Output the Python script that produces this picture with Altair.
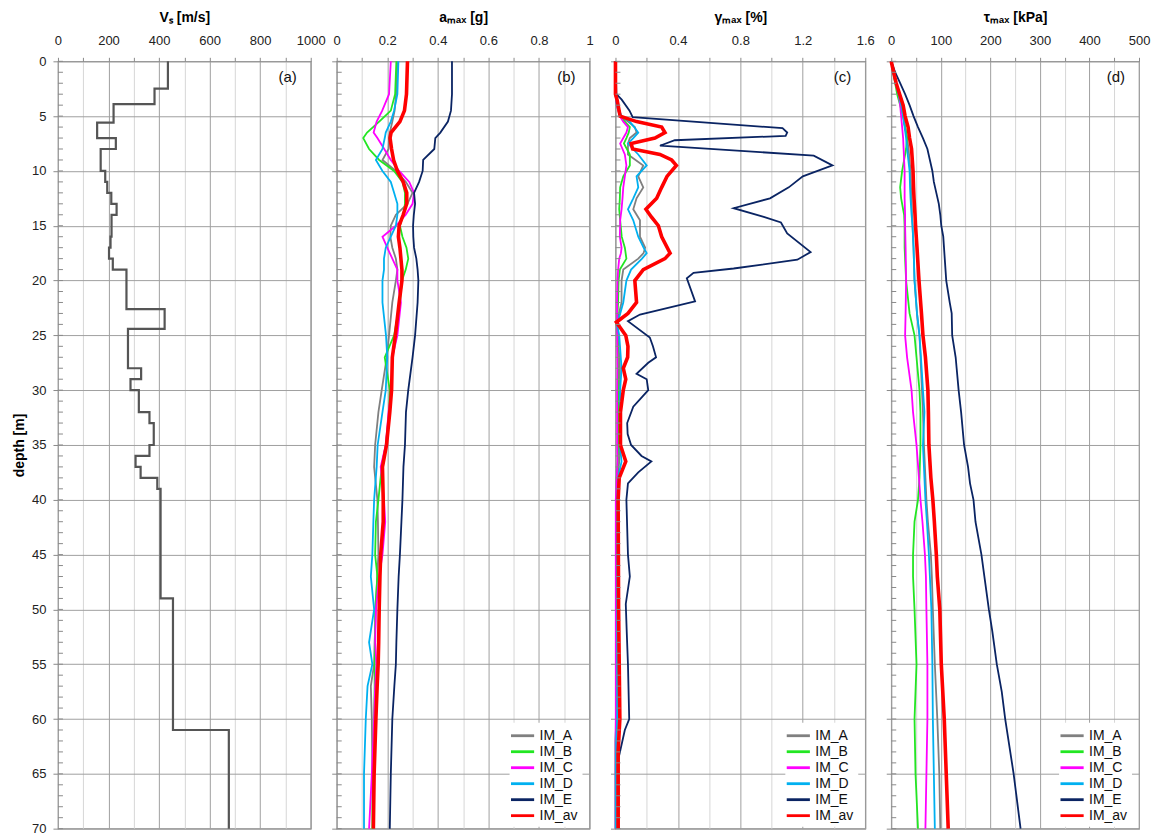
import altair as alt
import pandas as pd

SERIES = ["IM_A", "IM_B", "IM_C", "IM_D", "IM_E", "IM_av"]
COLORS = ["#808080", "#22e622", "#ff00ff", "#00b0f0", "#0a2463", "#ff0000"]

# ---------------- (a) Vs profile ----------------
VS_TOP = [0, 2.5, 3.9, 5.6, 7.0, 8.0, 10.0, 11.0, 12.0, 13.0, 14.0, 16.0, 17.0, 18.0, 19.0,
          22.6, 24.4, 28.0, 29.0, 30.0, 32.0, 33.0, 35.0, 36.0, 37.0, 38.0, 39.0, 49.0, 61.0]
VS_BOTTOM = VS_TOP[1:] + [70.0]
VS = [435, 382, 220, 155, 229, 169, 187, 195, 211, 232, 212, 208, 202, 217, 271,
      422, 277, 329, 287, 320, 362, 379, 362, 307, 327, 393, 406, 455, 676]

# ---------------- (b) a_max [g] ----------------
D_B = [0, 3, 4.5, 5.5, 6.5, 7, 8, 9, 10, 11, 12, 13, 14, 15, 16, 17, 18, 19, 20, 22, 25, 27,
       30, 32, 35, 37, 40, 42, 45, 47, 50, 53, 55, 57, 60, 65, 70]
AMAX_A = [0.24, 0.235, 0.229, 0.22, 0.21, 0.207, 0.205, 0.181, 0.234, 0.273, 0.30, 0.28, 0.234,
          0.214, 0.212, 0.22, 0.234, 0.24, 0.234, 0.22, 0.207, 0.198, 0.178, 0.165, 0.152, 0.148,
          0.161, 0.163, 0.165, 0.16, 0.155, 0.15, 0.148, 0.135, 0.139, 0.141, 0.144]
AMAX_B = [0.236, 0.231, 0.214, 0.168, 0.12, 0.105, 0.128, 0.168, 0.227, 0.26, 0.27, 0.27, 0.263,
          0.25, 0.26, 0.276, 0.283, 0.273, 0.258, 0.25, 0.227, 0.19, 0.21, 0.208, 0.194, 0.178,
          0.165, 0.155, 0.152, 0.161, 0.152, 0.152, 0.15, 0.15, 0.148, 0.142, 0.141]
AMAX_C = [0.214, 0.207, 0.18, 0.158, 0.146, 0.161, 0.188, 0.214, 0.247, 0.287, 0.306, 0.30, 0.273,
          0.234, 0.181, 0.2, 0.22, 0.24, 0.24, 0.254, 0.24, 0.22, 0.217, 0.205, 0.194, 0.174,
          0.187, 0.192, 0.181, 0.168, 0.155, 0.152, 0.157, 0.152, 0.148, 0.139, 0.128]
AMAX_D = [0.244, 0.24, 0.227, 0.214, 0.194, 0.19, 0.181, 0.155, 0.181, 0.214, 0.227, 0.24, 0.24,
          0.234, 0.214, 0.194, 0.187, 0.187, 0.181, 0.181, 0.195, 0.2, 0.194, 0.181, 0.162, 0.158,
          0.148, 0.145, 0.141, 0.135, 0.148, 0.128, 0.141, 0.122, 0.115, 0.108, 0.108]
AMAX_E = [0.456, 0.456, 0.452, 0.44, 0.41, 0.39, 0.386, 0.342, 0.34, 0.326, 0.306, 0.31, 0.305,
          0.302, 0.303, 0.306, 0.315, 0.32, 0.323, 0.32, 0.31, 0.30, 0.283, 0.274, 0.27, 0.264,
          0.26, 0.256, 0.25, 0.245, 0.24, 0.236, 0.234, 0.228, 0.22, 0.214, 0.21]
AMAX_AV = [0.28, 0.276, 0.268, 0.25, 0.215, 0.211, 0.217, 0.225, 0.24, 0.263, 0.277, 0.277, 0.263,
           0.247, 0.244, 0.25, 0.254, 0.258, 0.258, 0.247, 0.232, 0.22, 0.217, 0.21, 0.197, 0.181,
           0.184, 0.184, 0.174, 0.171, 0.168, 0.166, 0.164, 0.16, 0.155, 0.148, 0.145]

# ---------------- (c) gamma_max [%] ----------------
D_C = [0, 3, 4, 5, 5.5, 6, 6.5, 7, 7.5, 8.5, 9.5, 10.5, 11.5, 12.5, 13.5, 14.5, 16, 17, 17.5,
       18, 19, 20, 22, 24, 25, 28, 30, 35, 36.5, 38, 40, 50, 60, 62, 65, 70]
GAM_A = [0, 0, 0.01, 0.03, 0.08, 0.124, 0.135, 0.092, 0.08, 0.08, 0.178, 0.146, 0.178, 0.135,
         0.114, 0.157, 0.157, 0.19, 0.18, 0.146, 0.05, 0.039, 0.039, 0.006, 0.017, 0.028, 0.028,
         0.024, 0.024, 0.015, 0.011, 0.011, 0.011, 0.008, 0.006, 0.006]
GAM_B = [0, 0, 0.008, 0.028, 0.06, 0.092, 0.085, 0.07, 0.054, 0.092, 0.092, 0.05, 0.03, 0.028,
         0.024, 0.03, 0.04, 0.06, 0.065, 0.07, 0.028, 0.02, 0.017, 0.008, 0.013, 0.017, 0.017,
         0.017, 0.015, 0.008, 0.006, 0.006, 0.006, 0.0, 0.0, 0.0]
GAM_C = [0, 0, 0.008, 0.028, 0.05, 0.08, 0.07, 0.05, 0.03, 0.06, 0.07, 0.06, 0.05, 0.045, 0.039,
         0.03, 0.028, 0.039, 0.035, 0.024, 0.017, 0.013, 0.01, 0.011, 0.011, 0.013, 0.011, 0.011,
         0.013, 0.008, 0.002, 0.002, 0.002, 0.0, 0.0, 0.0]
GAM_D = [0, 0, 0.01, 0.039, 0.092, 0.12, 0.146, 0.114, 0.08, 0.146, 0.2, 0.135, 0.146, 0.114,
         0.08, 0.114, 0.146, 0.18, 0.2, 0.17, 0.1, 0.07, 0.05, 0.011, 0.024, 0.039, 0.03, 0.028,
         0.039, 0.017, 0.011, 0.011, 0.011, 0.004, 0.002, 0.002]
D_C_E = [0, 3, 3.5, 4.5, 5.1, 6.1, 6.5, 6.8, 7.2, 7.7, 8.6, 9.5, 10.5, 11.5, 12.5, 13.4, 14.2,
         14.7, 15.7, 17.4, 18.1, 18.9, 19.3, 19.8, 21.9, 23.1, 23.7, 25.2, 26, 27, 27.5, 28.5, 29,
         30, 31.5, 33, 34, 35, 36, 36.5, 37.5, 38.5, 40, 45, 47, 49.5, 52, 55, 60, 61, 63.5, 70]
GAM_E = [0, 0.006, 0.04, 0.09, 0.11, 1.07, 1.10, 1.09, 0.38, 0.285, 1.27, 1.39, 1.2, 1.11, 0.99,
         0.757, 0.95, 1.06, 1.1, 1.25, 1.165, 0.757, 0.5, 0.457, 0.51, 0.157, 0.08, 0.22, 0.24,
         0.26, 0.21, 0.135, 0.2, 0.21, 0.114, 0.075, 0.078, 0.1, 0.167, 0.23, 0.146, 0.08, 0.07,
         0.08, 0.092, 0.066, 0.072, 0.08, 0.088, 0.06, 0.021, 0.021]
D_C_AV = [0, 3, 3.5, 5, 5.5, 6, 6.5, 7, 7.5, 8, 8.5, 9, 9.5, 10.5, 11.5, 12.5, 13.5, 14.2, 15,
          16, 17.5, 18, 19, 20, 22, 23, 23.8, 25, 26, 27, 28, 29, 30, 32, 35, 36.5, 38, 40, 50,
          60, 63, 70]
GAM_AV = [0, 0, 0.01, 0.03, 0.135, 0.296, 0.317, 0.253, 0.1, 0.11, 0.285, 0.36, 0.39, 0.33,
          0.296, 0.264, 0.195, 0.23, 0.275, 0.296, 0.35, 0.317, 0.178, 0.124, 0.135, 0.08, 0.006,
          0.066, 0.08, 0.078, 0.05, 0.066, 0.05, 0.032, 0.032, 0.066, 0.024, 0.017, 0.02, 0.028,
          0.017, 0.017]

# ---------------- (d) tau_max [kPa] ----------------
D_D = [0, 1, 2, 3, 4, 5, 6, 7, 8, 10, 11.5, 12.5, 14, 15, 17, 20, 23, 25, 27, 30, 32, 35, 38,
       40, 42, 45, 47, 50, 55, 60, 65, 70]
TAU_A = [0, 4, 9, 15, 20, 24, 28, 32, 35, 39, 40, 41, 42, 43, 45, 47, 52, 57, 59, 62, 64, 66,
         69, 71, 74, 80, 82, 84, 88, 93, 97, 99]
TAU_B = [0, 4, 8, 12, 18, 24, 28, 32, 30, 22, 18, 20, 26, 27, 27, 30, 37, 47, 51, 57, 59, 59,
         57, 54, 47, 44, 44, 47, 51, 47, 49, 54]
TAU_C = [0, 4, 9, 15, 18, 20, 22, 24, 25, 27, 27, 27, 28, 28, 29, 30, 29, 28, 32, 41, 44, 51,
         56, 59, 63, 68, 70, 71, 73, 73, 71, 69]
TAU_D = [0, 4, 9, 15, 20, 24, 27, 30, 32, 37, 38, 39, 41, 43, 45, 47, 52, 57, 60, 64, 67, 64,
         67, 69, 72, 76, 78, 81, 83, 84, 86, 88]
TAU_AV = [0, 5, 10, 17, 24, 28, 34, 37, 41, 44, 45, 46, 48, 49, 52, 56, 61, 64, 69, 74, 75, 76,
          80, 84, 87, 91, 93, 98, 101, 107, 111, 115]
D_D_E = [0, 1, 2, 3, 4, 5, 6, 7, 8, 9, 10, 11, 12, 13, 14, 15, 16, 18, 20, 22, 23, 25, 27, 28,
         30, 32, 35, 37, 38.5, 40, 42, 45, 47, 50, 52, 55, 57.5, 60, 65, 70]
TAU_E = [0, 8, 18, 28, 37, 45, 54, 64, 73, 78, 83, 86, 91, 96, 99, 101, 105, 108, 111, 118, 122,
         123, 130, 132, 136, 141, 147, 155, 159, 166, 170, 182, 188, 197, 204, 213, 223, 230, 247,
         261]

# axis / grid values
GRID_VS = [0, 100, 200, 300, 400, 500, 600, 700, 800, 900, 1000]
GRID_A = [0, 0.1, 0.2, 0.3, 0.4, 0.5, 0.6, 0.7, 0.8, 0.9, 1.0]
GRID_G = [0, 0.2, 0.4, 0.6, 0.8, 1.0, 1.2, 1.4, 1.6]
GRID_T = [0, 50, 100, 150, 200, 250, 300, 350, 400, 450, 500]
DEPTH_TICKS = [0, 5, 10, 15, 20, 25, 30, 35, 40, 45, 50, 55, 60, 65, 70]
MINOR_DEPTHS = list(range(0, 71))

FONT = "Liberation Sans"
H = 768


def long_table(parts):
    rows = []
    for name, depths, vals in parts:
        for d, v in zip(depths, vals):
            rows.append({"series": name, "depth": d, "val": v})
    return pd.DataFrame(rows)


def y_enc(first):
    if first:
        ax = alt.Axis(values=DEPTH_TICKS, title="depth [m]", titleFontSize=14, titleFontWeight="bold",
                      titlePadding=5, labelFontSize=13, tickSize=5, grid=True, gridColor="#a0a0a0",
                      domain=False, tickColor="#8a8a8a", labelColor="#222222", labelPadding=7,
                      labelFlush=False)
    else:
        ax = alt.Axis(values=DEPTH_TICKS, title=None, labels=False, tickSize=5, grid=True,
                      gridColor="#a0a0a0", domain=False, tickColor="#8a8a8a")
    return alt.Y("depth:Q", scale=alt.Scale(domain=[0, 70], reverse=True, nice=False), axis=ax)


def x_axis(title, values, test):
    return alt.Axis(orient="top", values=values, title=title, titleFontSize=14,
                    titleFontWeight="bold", titlePadding=10, labelFontSize=13, labelColor="#222222",
                    labelExpr=f"({test}) ? format(datum.value, '~g') : ''", tickSize=4,
                    tickColor="#8a8a8a", domain=False, grid=True, labelFlush=False,
                    gridColor={"condition": {"test": test, "value": "#a0a0a0"}, "value": "#d6d6d6"},
                    labelPadding=10)


def extras(letter, width):
    minor = alt.Chart(pd.DataFrame({"depth": MINOR_DEPTHS})).mark_rule(
        color="#8a8a8a", strokeWidth=1).encode(
        y=alt.Y("depth:Q", scale=alt.Scale(domain=[0, 70], reverse=True, nice=False)),
        x=alt.value(0), x2=alt.value(5))
    lab = alt.Chart(pd.DataFrame({"t": [letter]})).mark_text(
        fontSize=15, font=FONT, color="#111111", align="right").encode(
        text="t:N", x=alt.value(width - 14), y=alt.value(16))
    return minor, lab


def profile_panel(df, title, values, test, domain, letter, width):
    legend_cfg = dict(
        title=None, orient="none", legendX=width - 80, legendY=662,
        fillColor="white", labelFontSize=14,
        labelFont=FONT, symbolType="M-1.6,0H1.6", symbolSize=210, symbolStrokeWidth=2.8,
        symbolFillColor="transparent",
        rowPadding=0, padding=4, labelColor="#111111", labelOffset=8)
    color = alt.Color("series:N", scale=alt.Scale(domain=SERIES, range=COLORS),
                      legend=alt.Legend(**legend_cfg))
    xenc = alt.X("val:Q", scale=alt.Scale(domain=domain, nice=False, zero=False),
                 axis=x_axis(title, values, test))
    thin = alt.Chart(df).transform_filter("datum.series !== 'IM_av'").mark_line(
        strokeWidth=1.8).encode(x=xenc, y=y_enc(False), color=color, order=alt.Order("depth:Q"))
    thick = alt.Chart(df).transform_filter("datum.series === 'IM_av'").mark_line(
        strokeWidth=3.6).encode(x=xenc, y=y_enc(False), color=color, order=alt.Order("depth:Q"))
    minor, lab = extras(letter, width)
    return alt.layer(thin, thick, minor, lab).properties(width=width, height=H)


# panel a
vs_rows = []
i = 0
for t, b, v in zip(VS_TOP, VS_BOTTOM, VS):
    vs_rows.append({"i": i, "depth": t, "val": v}); i += 1
    vs_rows.append({"i": i, "depth": b, "val": v}); i += 1
vs_df = pd.DataFrame(vs_rows)

vs_line = alt.Chart(vs_df).mark_line(color="#555555", strokeWidth=2.2).encode(
    x=alt.X("val:Q", scale=alt.Scale(domain=[0, 1000], nice=False),
            axis=x_axis("Vₛ [m/s]", GRID_VS, "round(datum.value/100) % 2 === 0")),
    y=y_enc(True),
    order=alt.Order("i:Q"),
)
minor_a, lab_a = extras("(a)", 253)
panel_a = alt.layer(vs_line, minor_a, lab_a).properties(width=253, height=H)

df_b = long_table([("IM_A", D_B, AMAX_A), ("IM_B", D_B, AMAX_B), ("IM_C", D_B, AMAX_C),
                   ("IM_D", D_B, AMAX_D), ("IM_E", D_B, AMAX_E), ("IM_av", D_B, AMAX_AV)])
df_c = long_table([("IM_A", D_C, GAM_A), ("IM_B", D_C, GAM_B), ("IM_C", D_C, GAM_C),
                   ("IM_D", D_C, GAM_D), ("IM_E", D_C_E, GAM_E), ("IM_av", D_C_AV, GAM_AV)])
df_d = long_table([("IM_A", D_D, TAU_A), ("IM_B", D_D, TAU_B), ("IM_C", D_D, TAU_C),
                   ("IM_D", D_D, TAU_D), ("IM_E", D_D_E, TAU_E), ("IM_av", D_D, TAU_AV)])

panel_b = profile_panel(df_b, "aₘₐₓ [g]", GRID_A, "round(datum.value*10) % 2 === 0", [0, 1], "(b)", 253)
panel_c = profile_panel(df_c, "γₘₐₓ [%]", GRID_G, "round(datum.value*5) % 2 === 0", [0, 1.6], "(c)", 250)
panel_d = profile_panel(df_d, "τₘₐₓ [kPa]", GRID_T, "round(datum.value/50) % 2 === 0", [0, 500], "(d)", 248)

chart = alt.hconcat(panel_a, panel_b, panel_c, panel_d, spacing=26, bounds="flush").resolve_scale(
    color="independent", x="independent"
).resolve_legend(color="independent").configure(
    font=FONT, padding={"top": 1, "left": 3, "right": 5, "bottom": 0}
).configure_view(stroke="#8a8a8a", strokeWidth=1.2)

chart.save("out.html", embed_options={"renderer": "svg", "actions": False})
